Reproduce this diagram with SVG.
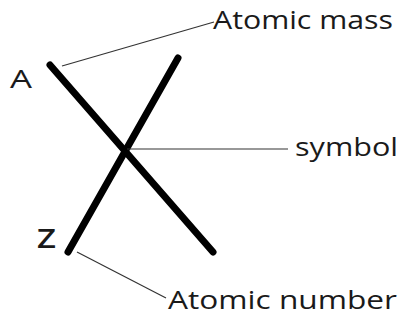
<svg xmlns="http://www.w3.org/2000/svg" width="403" height="322" viewBox="0 0 403 322">
<style>
.thick{stroke:#000;stroke-width:7;stroke-linecap:round;fill:none}
.thin{stroke:#333;stroke-width:1.2;fill:none}
.lbl{font-family:"Open Sans","Liberation Sans",sans-serif;font-size:25px;fill:#1a1a1a}
</style>
<rect width="403" height="322" fill="#fff"/>
<g id="cross">
<line class="thick" x1="50" y1="65" x2="213" y2="252"/>
<line class="thick" x1="178" y1="58" x2="68" y2="252"/>
</g>
<g id="connectors">
<line class="thin" x1="62" y1="66" x2="214" y2="22"/>
<line class="thin" x1="127" y1="149" x2="288" y2="149"/>
<line class="thin" x1="77" y1="252" x2="166" y2="298"/>
</g>
<g id="label-A"><text class="lbl" x="10" y="88" textLength="22" lengthAdjust="spacingAndGlyphs">A</text></g>
<g id="label-Z"><text class="lbl" x="37" y="248" textLength="19" lengthAdjust="spacingAndGlyphs" style="font-size:27px;font-weight:600">Z</text></g>
<g id="label-mass"><text class="lbl" x="213" y="29" textLength="180" lengthAdjust="spacingAndGlyphs">Atomic mass</text></g>
<g id="label-symbol"><text class="lbl" x="295" y="156" textLength="103" lengthAdjust="spacingAndGlyphs">symbol</text></g>
<g id="label-number"><text class="lbl" x="168" y="309" textLength="229" lengthAdjust="spacingAndGlyphs">Atomic number</text></g>
</svg>
